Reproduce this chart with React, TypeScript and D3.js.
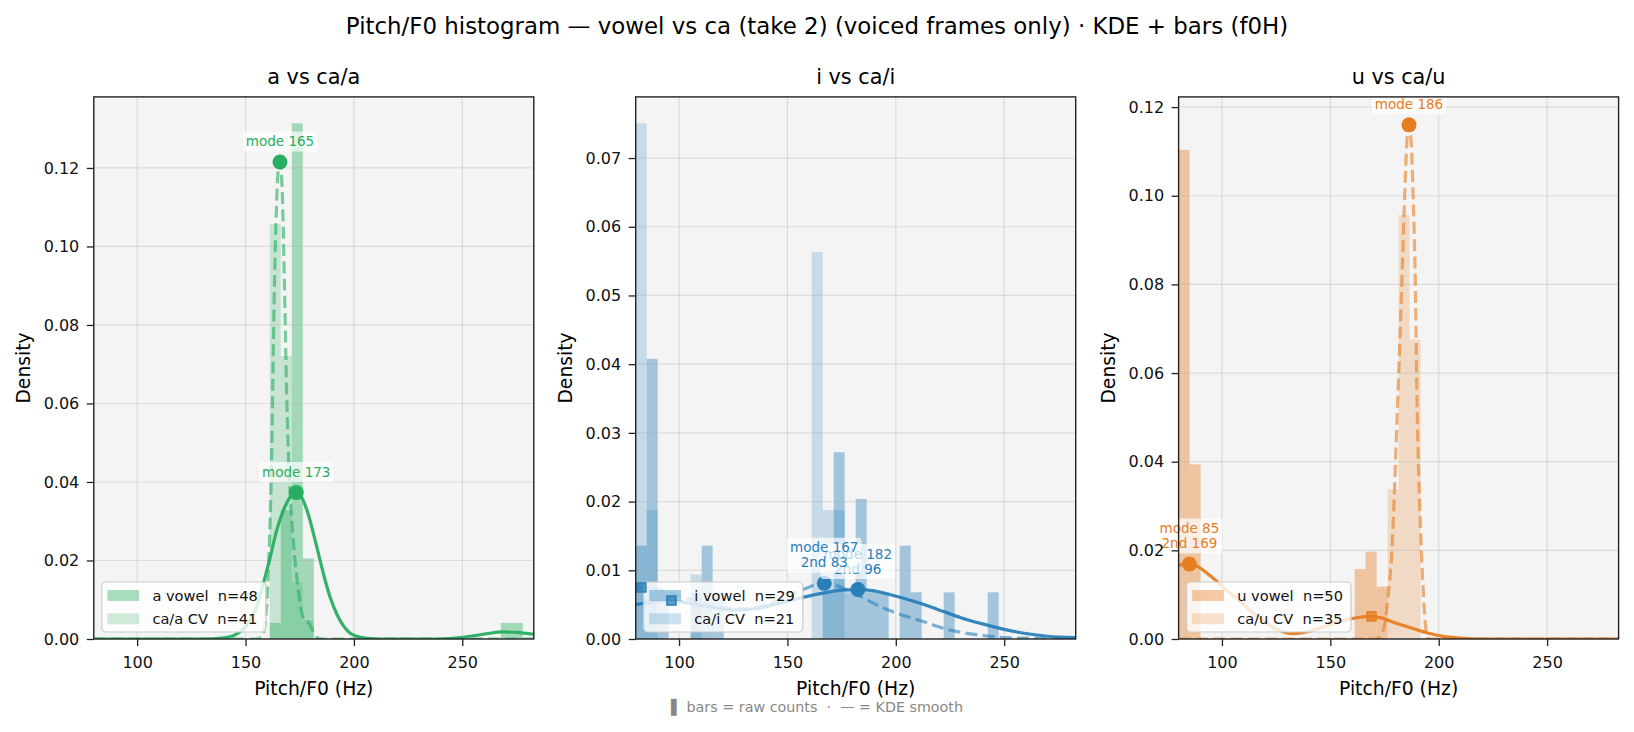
import { useEffect, useRef } from 'react'
import * as d3 from 'd3'

type Pt = [number, number]
type Bin = [number, number]

const W = 1634
const H = 732

// histogram bins: 40 bins of equal width starting at 80 Hz
const BIN_START = 80
const BIN_WIDTH = 5.075
const X_DOMAIN: Pt = [80, 283]
const X_TICKS = [100, 150, 200, 250]

const VOWELS = ['a', 'i', 'u']
const COLORS = ['#27ae60', '#2980b9', '#e67e22']
const N_VOWEL = [48, 29, 50]
const N_CV = [41, 21, 35]
const Y_MAX = [0.1381, 0.0789, 0.1223]
const Y_TICKS = [
  [0, 0.02, 0.04, 0.06, 0.08, 0.1, 0.12],
  [0, 0.01, 0.02, 0.03, 0.04, 0.05, 0.06, 0.07],
  [0, 0.02, 0.04, 0.06, 0.08, 0.1, 0.12],
]

// [bin index, count]
const aVowelBins: Bin[] = [[16, 1], [17, 8], [18, 32], [19, 5], [37, 1], [38, 1]]
const aCvBins: Bin[] = [[16, 22], [17, 15], [18, 3], [19, 1]]
const iVowelBins: Bin[] = [[0, 2], [1, 6], [2, 1], [5, 1], [6, 2], [7, 1], [17, 1], [18, 4], [19, 1], [20, 3], [21, 1], [22, 1], [24, 2], [25, 1], [28, 1], [32, 1]]
const iCvBins: Bin[] = [[0, 8], [1, 2], [5, 1], [16, 6], [17, 2], [18, 2]]
const uVowelBins: Bin[] = [[0, 28], [1, 10], [16, 4], [17, 5], [18, 3]]
const uCvBins: Bin[] = [[19, 6], [20, 17], [21, 12]]

// KDE curves: [Hz, density]
const aVowelKde: Pt[] = [[80, 0], [130, 0], [140, 0.0003], [145, 0.001], [150.7, 0.0036], [155, 0.008], [158.3, 0.0143], [161, 0.02], [164.5, 0.0279], [168, 0.0335], [170.6, 0.0361], [173.4, 0.0373], [176, 0.036], [178.3, 0.0329], [182.9, 0.0234], [186, 0.0165], [189, 0.0107], [192, 0.0065], [195.1, 0.0034], [198, 0.0016], [201.3, 0.0007], [206, 0.0002], [212, 0], [240, 0], [248, 0.0003], [255, 0.0008], [262, 0.0014], [268.6, 0.0018], [275, 0.0017], [283, 0.0012]]
const aCvKde: Pt[] = [[80, 0], [155, 0], [157.5, 0.0005], [159, 0.004], [160, 0.011], [161, 0.024], [162, 0.045], [163, 0.08], [164, 0.105], [165, 0.119], [165.9, 0.1215], [167, 0.113], [168, 0.089], [169, 0.062], [170, 0.044], [171.3, 0.0306], [173, 0.019], [174.4, 0.0125], [176, 0.0065], [177.5, 0.0045], [179, 0.0042], [180.5, 0.0028], [182, 0.001], [184, 0.0001], [186, 0], [283, 0]]
const iVowelKde: Pt[] = [[80, 0.005], [88, 0.0054], [96, 0.0056], [105, 0.0052], [115, 0.0046], [125, 0.0042], [135, 0.0044], [145, 0.0051], [155, 0.0059], [165, 0.0066], [175, 0.0071], [182.5, 0.0072], [190, 0.007], [198, 0.0064], [206, 0.0057], [214, 0.0049], [222, 0.004], [230, 0.0031], [240, 0.0022], [250, 0.0014], [260, 0.0008], [270, 0.0004], [283, 0.0002]]
const iCvKde: Pt[] = [[80, 0.0075], [83, 0.0075], [90, 0.0072], [100, 0.0063], [110, 0.0053], [120, 0.0046], [130, 0.0044], [140, 0.005], [150, 0.0062], [158, 0.0073], [163, 0.0079], [167, 0.0081], [172, 0.0078], [180, 0.0068], [186, 0.0058], [193, 0.0047], [201, 0.0037], [213, 0.0025], [225, 0.0013], [238, 0.0006], [250, 0.0002], [265, 0.0001], [283, 0]]
const uVowelKde: Pt[] = [[80, 0.0166], [85, 0.017], [90, 0.016], [94.7, 0.0142], [102.3, 0.011], [110, 0.0078], [117.6, 0.0046], [125.3, 0.0022], [133, 0.0012], [140.7, 0.0018], [148.4, 0.003], [156, 0.0042], [162, 0.0048], [169, 0.0051], [174, 0.0047], [179, 0.0038], [186.7, 0.0026], [194.4, 0.0014], [202, 0.0006], [210, 0.0002], [220, 0], [283, 0]]
const uCvKde: Pt[] = [[80, 0], [170, 0], [172.5, 0.0003], [174, 0.0015], [175.2, 0.0035], [176.5, 0.009], [178.3, 0.019], [180.9, 0.0512], [182, 0.066], [183.2, 0.0833], [184.3, 0.1], [185.3, 0.112], [186.3, 0.116], [187.3, 0.112], [188.2, 0.1], [189.1, 0.0833], [190.1, 0.0512], [191.1, 0.032], [192.1, 0.019], [193.3, 0.007], [194.4, 0.0012], [195.5, 0], [283, 0]]

// peaks: mode (dot) and second peak (square)
const aVowelMode: Pt = [173.4, 0.0373]
const aCvMode: Pt = [165.9, 0.1215]
const iVowelMode: Pt = [182.5, 0.0072]
const iVowelSecond: Pt = [96.5, 0.0056]
const iCvMode: Pt = [167, 0.0081]
const iCvSecond: Pt = [82.6, 0.0075]
const uVowelMode: Pt = [85, 0.0169]
const uVowelSecond: Pt = [169, 0.0051]
const uCvMode: Pt = [186.3, 0.116]

const aVowelLabel = ['mode 173']
const aCvLabel = ['mode 165']
const iVowelLabel = ['mode 182', '2nd 96']
const iCvLabel = ['mode 167', '2nd 83']
const uVowelLabel = ['mode 85', '2nd 169']
const uCvLabel = ['mode 186']

const PANELS = [
  { vb: aVowelBins, cb: aCvBins, vk: aVowelKde, ck: aCvKde, vm: aVowelMode, cm: aCvMode, vs: null, cs: null, vl: aVowelLabel, cl: aCvLabel },
  { vb: iVowelBins, cb: iCvBins, vk: iVowelKde, ck: iCvKde, vm: iVowelMode, cm: iCvMode, vs: iVowelSecond, cs: iCvSecond, vl: iVowelLabel, cl: iCvLabel },
  { vb: uVowelBins, cb: uCvBins, vk: uVowelKde, ck: uCvKde, vm: uVowelMode, cm: uCvMode, vs: uVowelSecond, cs: null, vl: uVowelLabel, cl: uCvLabel },
].map((p, i) => ({ ...p, v: VOWELS[i], color: COLORS[i], nV: N_VOWEL[i], nC: N_CV[i], yMax: Y_MAX[i], yTicks: Y_TICKS[i] }))

const FONT = '"DejaVu Sans", sans-serif'
const PANEL_LEFT = [93.8, 635.7, 1178.6]
const PANEL_W = 440
const TOP = 96.9
const BOTTOM = 639

const App = () => {
  const ref = useRef<SVGSVGElement>(null)

  useEffect(() => {
    if (!ref.current) return
    const svg = d3.select(ref.current)
    svg.selectAll('*').remove()

    const ctx = document.createElement('canvas').getContext('2d')!
    const textW = (s: string, size: number) => {
      ctx.font = `${size}px "DejaVu Sans"`
      return ctx.measureText(s).width
    }

    svg.append('text')
      .attr('x', 817).attr('y', 34)
      .attr('text-anchor', 'middle')
      .attr('font-family', FONT).attr('font-size', 22.9)
      .text('Pitch/F0 histogram — vowel vs ca (take 2) (voiced frames only) · KDE + bars (f0H)')

    PANELS.forEach((p, i) => {
      const left = PANEL_LEFT[i]
      const x = d3.scaleLinear().domain(X_DOMAIN).range([left, left + PANEL_W])
      const y = d3.scaleLinear().domain([0, p.yMax]).range([BOTTOM, TOP])
      const g = svg.append('g')

      //axes background + clip
      const clipId = `clip-${i}`
      g.append('clipPath').attr('id', clipId)
        .append('rect').attr('x', left).attr('y', TOP).attr('width', PANEL_W).attr('height', BOTTOM - TOP)
      g.append('rect')
        .attr('x', left).attr('y', TOP).attr('width', PANEL_W).attr('height', BOTTOM - TOP)
        .attr('fill', '#f4f4f4')

      const plot = g.append('g').attr('clip-path', `url(#${clipId})`)

      //bars: vowel then CV
      const drawBars = (bins: Bin[], n: number, alpha: number) => {
        plot.append('g').selectAll('rect').data(bins).join('rect')
          .attr('x', d => x(BIN_START + d[0] * BIN_WIDTH))
          .attr('width', d => x(BIN_START + (d[0] + 1) * BIN_WIDTH) - x(BIN_START + d[0] * BIN_WIDTH))
          .attr('y', d => y(d[1] / (n * BIN_WIDTH)))
          .attr('height', d => BOTTOM - y(d[1] / (n * BIN_WIDTH)))
          .attr('fill', p.color).attr('fill-opacity', alpha)
      }
      drawBars(p.vb, p.nV, 0.4)
      drawBars(p.cb, p.nC, 0.22)

      //grid
      plot.append('g').selectAll('line').data(X_TICKS).join('line')
        .attr('x1', d => x(d)).attr('x2', d => x(d)).attr('y1', TOP).attr('y2', BOTTOM)
        .attr('stroke', '#b0b0b0').attr('stroke-opacity', 0.35).attr('stroke-width', 1.2)
      plot.append('g').selectAll('line').data(p.yTicks).join('line')
        .attr('x1', left).attr('x2', left + PANEL_W).attr('y1', d => y(d)).attr('y2', d => y(d))
        .attr('stroke', '#b0b0b0').attr('stroke-opacity', 0.35).attr('stroke-width', 1.2)

      //kde lines
      const line = d3.line<Pt>().x(d => x(d[0])).y(d => y(d[1])).curve(d3.curveMonotoneX)
      plot.append('path').attr('d', line(p.vk))
        .attr('fill', 'none').attr('stroke', p.color).attr('stroke-width', 3.2).attr('stroke-opacity', 0.95)
      plot.append('path').attr('d', line(p.ck))
        .attr('fill', 'none').attr('stroke', p.color).attr('stroke-width', 3.2).attr('stroke-opacity', 0.6)
        .attr('stroke-dasharray', '12,5.3')

      //legend
      const labels = [`${p.v} vowel  n=${p.nV}`, `ca/${p.v} CV  n=${p.nC}`]
      const lw = 50.6 + d3.max(labels, s => textW(s, 14.6))! + 8
      const lg = g.append('g').attr('transform', `translate(${left + 8},582)`)
      lg.append('rect').attr('width', lw).attr('height', 50).attr('rx', 4)
        .attr('fill', 'white').attr('fill-opacity', 0.8).attr('stroke', '#cccccc').attr('stroke-width', 1.2)
      labels.forEach((s, j) => {
        const cy = 13.5 + j * 23.2
        lg.append('rect').attr('x', 5.6).attr('y', cy - 5.5).attr('width', 31.7).attr('height', 11)
          .attr('fill', p.color).attr('fill-opacity', j === 0 ? 0.4 : 0.22)
        lg.append('text').attr('x', 50.6).attr('y', cy).attr('dy', '0.35em')
          .attr('font-family', FONT).attr('font-size', 14.6).attr('fill', '#111')
          .style('white-space', 'pre').text(s)
      })

      //markers
      const dots = [p.vm, p.cm]
      g.append('g').selectAll('circle').data(dots).join('circle')
        .attr('cx', d => x(d[0])).attr('cy', d => y(d[1])).attr('r', 7.5)
        .attr('fill', p.color)
      const squares = [p.vs, p.cs].filter(Boolean) as Pt[]
      g.append('g').selectAll('rect').data(squares).join('rect')
        .attr('x', d => x(d[0]) - 4.5).attr('y', d => y(d[1]) - 4.5).attr('width', 9).attr('height', 9)
        .attr('fill', p.color).attr('fill-opacity', 0.75).attr('stroke', p.color).attr('stroke-width', 1.5)

      //annotations: vowel first, CV on top
      const annotate = (pt: Pt, lines: string[]) => {
        const cx = x(pt[0])
        const last = y(pt[1]) - 16
        const first = last - (lines.length - 1) * 15
        const bw = d3.max(lines, s => textW(s, 13.5))! + 6
        const a = g.append('g')
        a.append('rect').attr('x', cx - bw / 2).attr('y', first - 14.5).attr('width', bw)
          .attr('height', last - first + 20).attr('rx', 3)
          .attr('fill', 'white').attr('fill-opacity', 0.7)
        lines.forEach((s, j) => {
          a.append('text').attr('x', cx).attr('y', first + j * 15).attr('text-anchor', 'middle')
            .attr('font-family', FONT).attr('font-size', 13.5).attr('fill', p.color).text(s)
        })
      }
      annotate(p.vm, p.vl)
      annotate(p.cm, p.cl)

      //axes
      const xAxis = g.append('g').attr('transform', `translate(0,${BOTTOM})`)
        .call(d3.axisBottom(x).tickValues(X_TICKS).tickSize(7).tickPadding(10.5).tickFormat(d3.format('d')))
      const yAxis = g.append('g').attr('transform', `translate(${left},0)`)
        .call(d3.axisLeft(y).tickValues(p.yTicks).tickSize(7).tickPadding(7.5).tickFormat(d3.format('.2f')))
      for (const ax of [xAxis, yAxis]) {
        ax.select('.domain').remove()
        ax.selectAll('line').attr('stroke', '#222').attr('stroke-width', 1.3)
        ax.selectAll('text').attr('font-family', FONT).attr('font-size', 16).attr('fill', '#111')
      }

      g.append('rect')
        .attr('x', left).attr('y', TOP).attr('width', PANEL_W).attr('height', BOTTOM - TOP)
        .attr('fill', 'none').attr('stroke', '#222').attr('stroke-width', 1.4)

      //titles
      g.append('text').attr('x', left + PANEL_W / 2).attr('y', 84.4).attr('text-anchor', 'middle')
        .attr('font-family', FONT).attr('font-size', 20.8).text(`${p.v} vs ca/${p.v}`)
      g.append('text').attr('x', left + PANEL_W / 2).attr('y', 695).attr('text-anchor', 'middle')
        .attr('font-family', FONT).attr('font-size', 18.75).text('Pitch/F0 (Hz)')
      g.append('text')
        .attr('transform', `translate(${left - 64},${(TOP + BOTTOM) / 2}) rotate(-90)`)
        .attr('text-anchor', 'middle')
        .attr('font-family', FONT).attr('font-size', 18.75).text('Density')
    })

    svg.append('text')
      .attr('x', 817).attr('y', 712).attr('text-anchor', 'middle')
      .attr('font-family', FONT).attr('font-size', 14.3).attr('fill', '#888')
      .style('white-space', 'pre')
      .text('▌ bars = raw counts  ·  — = KDE smooth')
  }, [])

  return (
    <div style={{ position: 'absolute', left: 0, top: 0 }}>
      <svg ref={ref} width={W} height={H} style={{ display: 'block', background: '#fff' }} />
    </div>
  )
}

export default App
